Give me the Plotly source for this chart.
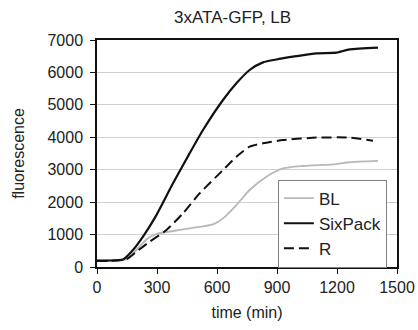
import plotly.graph_objects as go

title = "3xATA-GFP, LB"
x_title = "time (min)"
y_title = "fluorescence"

six_x = [0, 60, 130, 180, 230, 297, 380, 463, 530, 630, 697, 763, 830, 897, 997, 1097, 1197, 1263, 1405]
six_y = [200, 200, 230, 524, 935, 1600, 2580, 3505, 4225, 5150, 5665, 6075, 6310, 6400, 6500, 6590, 6610, 6710, 6765]

r_x = [0, 60, 147, 197, 263, 347, 430, 513, 630, 697, 763, 830, 930, 1097, 1263, 1380]
r_y = [185, 190, 236, 470, 780, 1140, 1655, 2270, 2990, 3400, 3710, 3815, 3915, 3990, 3990, 3895]

bl_x = [0, 60, 147, 197, 247, 297, 380, 463, 580, 630, 697, 763, 847, 930, 1030, 1197, 1263, 1405]
bl_y = [200, 200, 236, 524, 850, 1018, 1110, 1190, 1315, 1500, 1910, 2375, 2785, 3040, 3115, 3175, 3230, 3270]

x_ticks = [0, 300, 600, 900, 1200, 1500]
y_ticks = [0, 1000, 2000, 3000, 4000, 5000, 6000, 7000]

FONT = "Liberation Sans, Arial, sans-serif"

fig = go.Figure()
fig.add_trace(go.Scatter(x=bl_x, y=bl_y, mode="lines", name="BL",
                         line=dict(color="#b8b8b8", width=1.8, shape="spline", smoothing=0.6)))
fig.add_trace(go.Scatter(x=six_x, y=six_y, mode="lines", name="SixPack",
                         line=dict(color="#111111", width=2.2, shape="spline", smoothing=0.6)))
fig.add_trace(go.Scatter(x=r_x, y=r_y, mode="lines", name="R",
                         line=dict(color="#111111", width=2.0, dash="10px,5px", shape="spline", smoothing=0.6)))

fig.update_layout(
    width=418, height=330,
    margin=dict(l=97, r=21, t=40, b=63, autoexpand=False),
    paper_bgcolor="white", plot_bgcolor="white",
    font=dict(family=FONT, size=16, color="#222222"),
    showlegend=True,
    legend=dict(x=0.603, y=0.385, xanchor="left", yanchor="top",
                bgcolor="white", bordercolor="#808080", borderwidth=1,
                font=dict(size=17, color="#222222"), tracegroupgap=0),
    annotations=[dict(text=title, x=0.45, xref="paper", y=1.0, yref="paper",
                      yanchor="bottom", yshift=11,
                      showarrow=False, font=dict(size=17, color="#222222"))],
)

fig.update_xaxes(range=[0, 1500], tickvals=x_ticks, ticktext=[str(v) for v in x_ticks],
                 automargin=False,
                 showgrid=False, zeroline=False, showline=True, linecolor="#111111", linewidth=1.5,
                 mirror=True, ticks="outside", ticklen=5, tickcolor="#111111",
                 title=dict(text=x_title, standoff=12, font=dict(size=16)))
fig.update_yaxes(range=[0, 7000], tickvals=y_ticks, ticktext=[str(v) for v in y_ticks],
                 automargin=False,
                 showgrid=True, gridcolor="#d0d0d0", gridwidth=1, zeroline=False,
                 showline=True, linecolor="#111111", linewidth=1.5,
                 mirror=True, ticks="outside", ticklen=5, tickcolor="#111111",
                 ticklabelstandoff=4,
                 title=dict(text=y_title, standoff=19, font=dict(size=16)))

fig.write_html("out.html")
